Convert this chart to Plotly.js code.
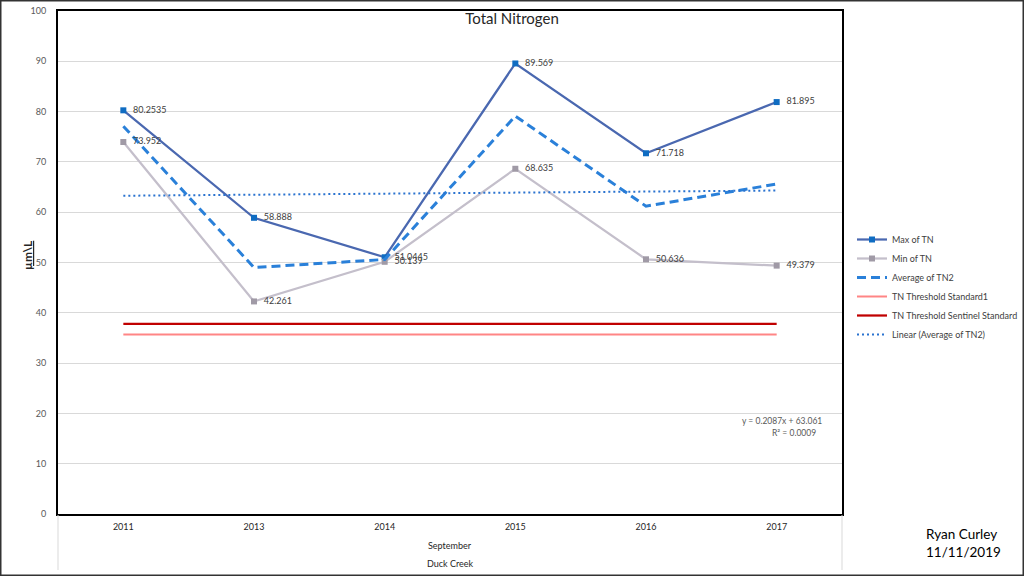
<!DOCTYPE html>
<html>
<head>
<meta charset="utf-8">
<script src="https://cdn.plot.ly/plotly-3.0.1.min.js"></script>
<style>
  html, body { margin: 0; padding: 0; background: #fff; }
  #chart { width: 1024px; height: 576px; }
</style>
</head>
<body>
<div id="chart"></div>
<script>
const years = ['2011', '2013', '2014', '2015', '2016', '2017'];
const maxTN = [80.2535, 58.888, 51.0445, 89.569, 71.718, 81.895];
const minTN = [73.952, 42.261, 50.139, 68.635, 50.636, 49.379];
const avgTN2 = [77.1, 49.0, 50.6, 79.1, 61.2, 65.6];
const thresholdStandard1 = [35.7, 35.7, 35.7, 35.7, 35.7, 35.7];
const thresholdSentinel = [37.8, 37.8, 37.8, 37.8, 37.8, 37.8];
const linearAvgTN2 = [63.27, 63.48, 63.69, 63.90, 64.10, 64.31];
const trendEquation = 'y = 0.2087x + 63.061';
const trendR2 = 'R² = 0.0009';
const yTicks = [0, 10, 20, 30, 40, 50, 60, 70, 80, 90, 100];

const FONT = 'Lato, "Open Sans", sans-serif';
const labelFont = { family: FONT, size: 9, color: '#404040' };

const traces = [
  { x: years, y: maxTN, name: 'Max of TN', type: 'scatter', mode: 'lines+markers',
    line: { color: '#4a68b0', width: 2.25 },
    marker: { symbol: 'square', size: 6, color: '#0f6cc2' } },
  { x: years, y: minTN, name: 'Min of TN', type: 'scatter', mode: 'lines+markers',
    line: { color: '#c4bfcb', width: 2.25 },
    marker: { symbol: 'square', size: 6, color: '#a09aa6' } },
  { x: years, y: avgTN2, name: 'Average of TN2', type: 'scatter', mode: 'lines',
    line: { color: '#2a80d9', width: 3, dash: '9px,5px' } },
  { x: years, y: thresholdStandard1, name: 'TN Threshold Standard1', type: 'scatter', mode: 'lines',
    line: { color: '#ff8585', width: 2 } },
  { x: years, y: thresholdSentinel, name: 'TN Threshold Sentinel Standard', type: 'scatter', mode: 'lines',
    line: { color: '#c00000', width: 2.25 } },
  { x: years, y: linearAvgTN2, name: 'Linear (Average of TN2)', type: 'scatter', mode: 'lines',
    line: { color: '#2a73d0', width: 2, dash: '2px,3px' } },
  { x: years, y: maxTN, type: 'scatter', mode: 'markers+text', showlegend: false, hoverinfo: 'skip',
    marker: { size: 14, color: 'rgba(0,0,0,0)' },
    text: maxTN.map(String), textposition: 'middle right', textfont: labelFont, cliponaxis: false },
  { x: years, y: minTN, type: 'scatter', mode: 'markers+text', showlegend: false, hoverinfo: 'skip',
    marker: { size: 14, color: 'rgba(0,0,0,0)' },
    text: minTN.map(String), textposition: 'middle right', textfont: labelFont, cliponaxis: false }
];

// paper coordinate helpers (plot area: x 58..842, y 11..514 px)
const px = v => (v - 58) / 784;
const py = v => (514 - v) / 503;

const layout = {
  width: 1024, height: 576,
  margin: { l: 58, r: 182, t: 11, b: 62, pad: 0, autoexpand: false },
  paper_bgcolor: '#ffffff', plot_bgcolor: '#ffffff',
  font: { family: FONT, size: 9, color: '#404040' },
  title: { text: 'Total Nitrogen', x: 0.5, xref: 'container', xanchor: 'center',
           y: 1 - 19 / 576, yref: 'container', yanchor: 'middle',
           font: { family: FONT, size: 15, color: '#262626' } },
  showlegend: true,
  legend: { x: px(852), y: py(225), xanchor: 'left', yanchor: 'top',
            font: { family: FONT, size: 9, color: '#404040' },
            bgcolor: 'rgba(0,0,0,0)', borderwidth: 0, tracegroupgap: 0, itemwidth: 30 },
  xaxis: { type: 'category', categoryorder: 'array', categoryarray: years,
           range: [-0.5, 5.5], showgrid: false, zeroline: false,
           showline: true, linecolor: '#000', linewidth: 2, mirror: true,
           ticks: '', ticklabelstandoff: 3, automargin: false,
           tickfont: { family: FONT, size: 9, color: '#262626' }, fixedrange: true },
  yaxis: { range: [0, 100], tickvals: yTicks, showgrid: true, gridcolor: '#d9d9d9', gridwidth: 1,
           zeroline: false, showline: true, linecolor: '#000', linewidth: 2, mirror: true,
           ticks: '', ticklabelstandoff: 8, automargin: false,
           tickfont: { family: FONT, size: 9, color: '#595959' }, fixedrange: true },
  annotations: [
    { xref: 'paper', yref: 'paper', x: px(27), y: py(255), xanchor: 'center', yanchor: 'middle',
      text: '<u>µm\\L</u>', showarrow: false,
      textangle: -90, font: { family: FONT, size: 12, color: '#262626', weight: 'bold' } },
    { xref: 'paper', yref: 'paper', x: 0.5, y: py(545), xanchor: 'center', yanchor: 'middle',
      text: 'September', showarrow: false,
      font: { family: FONT, size: 9, color: '#262626' } },
    { xref: 'paper', yref: 'paper', x: 0.5, y: py(563), xanchor: 'center', yanchor: 'middle',
      text: 'Duck Creek', showarrow: false,
      font: { family: FONT, size: 9, color: '#262626' } },
    { xref: 'paper', yref: 'paper', x: px(824), y: py(421), xanchor: 'right', yanchor: 'middle',
      text: trendEquation, showarrow: false, font: { family: FONT, size: 8.5, color: '#595959' } },
    { xref: 'paper', yref: 'paper', x: px(794), y: py(433), xanchor: 'center', yanchor: 'middle',
      text: trendR2, showarrow: false, font: { family: FONT, size: 8.5, color: '#595959' } },
    { xref: 'paper', yref: 'paper', x: px(1003), y: py(543), xanchor: 'right', yanchor: 'middle',
      align: 'left', text: 'Ryan Curley<br>11/11/2019', showarrow: false,
      font: { family: FONT, size: 13.5, color: '#000' } }
  ],
  shapes: [
    { type: 'line', xref: 'paper', yref: 'paper', x0: 0, x1: 0, y0: py(515), y1: py(570),
      line: { color: '#d9d9d9', width: 1 } },
    { type: 'line', xref: 'paper', yref: 'paper', x0: 1, x1: 1, y0: py(515), y1: py(570),
      line: { color: '#d9d9d9', width: 1 } },
    { type: 'rect', xref: 'paper', yref: 'paper', x0: px(0.75), x1: px(1023.25), y0: py(0.75), y1: py(575.25),
      line: { color: '#333333', width: 1.5 }, fillcolor: 'rgba(0,0,0,0)' }
  ]
};

Plotly.newPlot('chart', traces, layout, { staticPlot: true, displayModeBar: false });
</script>
</body>
</html>
